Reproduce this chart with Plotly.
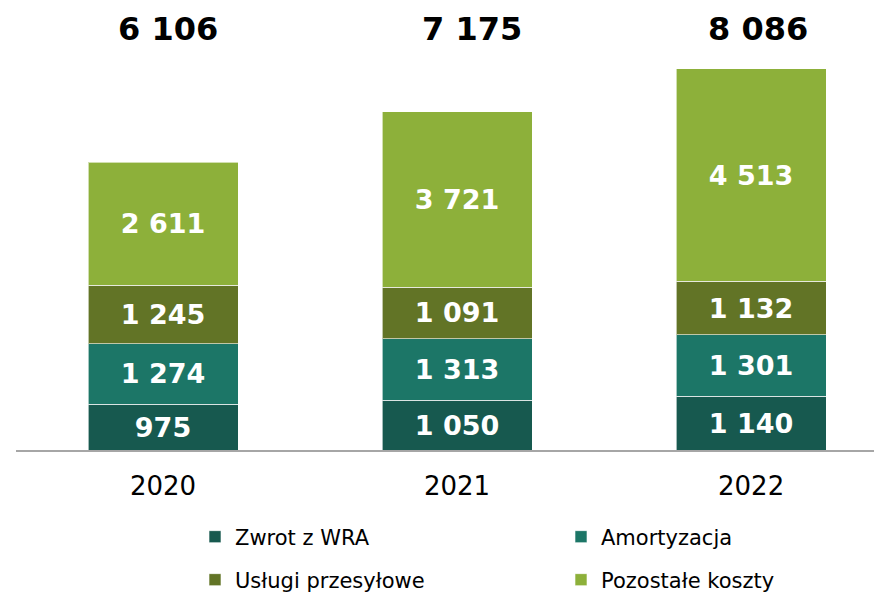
import plotly.graph_objects as go

years = ["2020", "2021", "2022"]
series_names = ["Zwrot z WRA", "Amortyzacja", "Usługi przesyłowe", "Pozostałe koszty"]
zwrot = [975, 1050, 1140]
amortyzacja = [1274, 1313, 1301]
uslugi = [1245, 1091, 1132]
pozostale = [2611, 3721, 4513]
totals = [6106, 7175, 8086]
colors = ["#17594F", "#1C7667", "#627426", "#8DB03A"]

W, H = 874, 593
FONT = "DejaVu Sans"
BASE = 450
TOP = 50
SCALE = 0.04717  # px per unit
TOTAL_XSHIFT = [5, 15, 7]

fig = go.Figure()
all_vals = [zwrot, amortyzacja, uslugi, pozostale]
legend_ids = ["legend", "legend", "legend2", "legend2"]
for name, vals, col, lg in zip(series_names, all_vals, colors, legend_ids):
    fig.add_trace(go.Bar(
        x=years, y=vals, name=name, legend=lg,
        marker=dict(color=col, line=dict(color="rgba(255,255,255,0.6)", width=1)),
        width=0.51,
        texttemplate="%{y:,}", textposition="inside", insidetextanchor="middle",
        constraintext="none",
        textfont=dict(family=FONT, size=27, color="white", weight="bold"),
        hoverinfo="skip",
    ))

for i, t in enumerate(totals):
    fig.add_annotation(
        x=i, xref="x", yref="paper", y=(BASE - 29) / (BASE - TOP), yanchor="middle",
        xshift=TOTAL_XSHIFT[i],
        text="<b>" + f"{t:,}".replace(",", " ") + "</b>", showarrow=False,
        font=dict(family=FONT, size=32, color="black"),
    )

leg_common = dict(orientation="h", xref="container", yref="container",
                  xanchor="left", yanchor="middle", traceorder="normal",
                  entrywidth=321, entrywidthmode="pixels",
                  font=dict(family=FONT, size=21, color="black"),
                  bgcolor="rgba(0,0,0,0)")

fig.update_layout(
    width=W, height=H,
    margin=dict(l=16, r=0, t=TOP, b=H - BASE),
    barmode="stack",
    separators=", ",
    plot_bgcolor="white", paper_bgcolor="white",
    font=dict(family=FONT, color="black"),
    xaxis=dict(type="category", range=[-0.5, 2.418], showgrid=False,
               showline=True, linecolor="#A6A6A6", linewidth=2,
               ticks="", tickfont=dict(family=FONT, size=26, color="black"),
               ticklabelstandoff=12, fixedrange=True),
    yaxis=dict(range=[0, (BASE - TOP) / SCALE], visible=False, fixedrange=True),
    legend=dict(x=195 / W, y=1 - 537 / H, **leg_common),
    legend2=dict(x=195 / W, y=1 - 580 / H, **leg_common),
    showlegend=True,
)

fig.write_html("out.html", config={"displayModeBar": False},
               post_script="document.body.style.margin='0px';")
